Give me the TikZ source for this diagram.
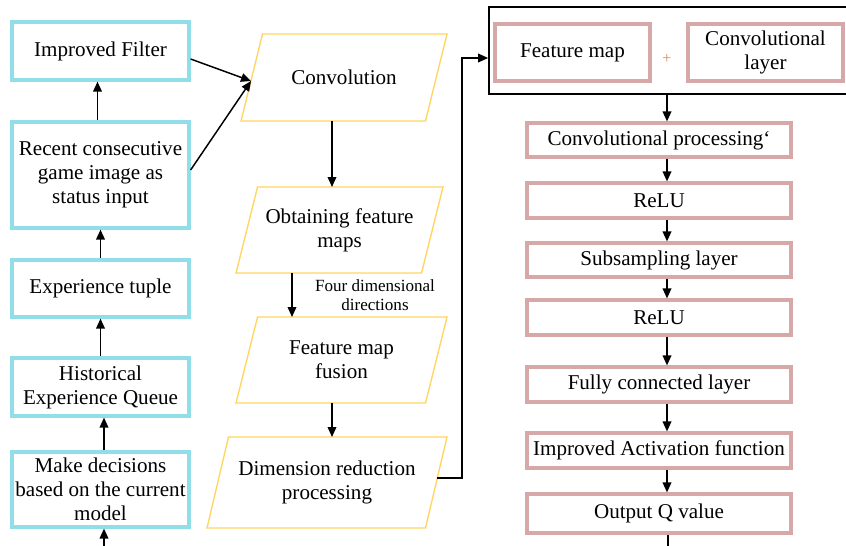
\documentclass[tikz,border=0pt]{standalone}
\usepackage{fontspec}
\setmainfont{Liberation Serif}
\usetikzlibrary{calc,arrows.meta}
\definecolor{cyanb}{RGB}{145,222,232}
\definecolor{pinkb}{RGB}{214,168,168}
\definecolor{yelb}{RGB}{255,212,96}
\definecolor{plusc}{RGB}{220,140,90}
\newcommand\pxl[1]{#1*0.75pt}
\newcommand\drawpara[1]{\draw[yelline] ($(#1.north west)+(21.5,0)$) -- (#1.north east) -- ($(#1.south east)+(-21.5,0)$) -- (#1.south west) -- cycle;}
\tikzset{
  every node/.style={font=\fontsize{15.8}{18}\selectfont},
  cbox/.style={draw=cyanb, line width=2.4pt, minimum width=\pxl{177}, align=center, inner sep=0pt},
  pbox/.style={draw=pinkb, line width=2.4pt, align=center, inner sep=0pt},
  paranode/.style={align=center, inner sep=0pt, outer sep=0pt},
  yelline/.style={draw=yelb, line width=1pt},
  arr/.style={-{Triangle[length=7.5pt,width=6.5pt]}, line width=1.1pt},
  plain/.style={line width=1.1pt}
}
\begin{document}
\begin{tikzpicture}[x=0.75pt,y=-0.75pt]
\useasboundingbox (0,0) rectangle (846,546);
\fill[white] (0,0) rectangle (846,546);
\clip (0,0) rectangle (846,546);

% left column
\node[cbox, minimum height=\pxl{58}] (filt) at (100.5,51) {Improved Filter};
\node[cbox, minimum height=\pxl{106}] (recent) at (100.5,175) {Recent consecutive\\game image as\\status input};
\node[cbox, minimum height=\pxl{57}] (exp) at (100.5,288.5) {Experience tuple};
\node[cbox, minimum height=\pxl{58}] (hist) at (100.5,387) {Historical\\Experience Queue};
\node[cbox, minimum height=\pxl{75}] (make) at (100.5,489.5) {Make decisions\\based on the current\\model};

% middle column
\node[paranode, minimum width=\pxl{206}, minimum height=\pxl{87}] (conv) at (344,77.5) {Convolution};
\node[paranode, minimum width=\pxl{207}, minimum height=\pxl{86}] (obt) at (339.5,230) {Obtaining feature\\maps};
\node[paranode, minimum width=\pxl{211}, minimum height=\pxl{86}] (fus) at (341.5,360) {Feature map\\fusion};
\node[paranode, minimum width=\pxl{240}, minimum height=\pxl{91}] (dim) at (327,482.5) {Dimension reduction\\processing};
\drawpara{conv}
\drawpara{obt}
\drawpara{fus}
\drawpara{dim}
\node[font=\fontsize{12.8}{14.5}\selectfont, align=center] (lbl) at (375,295) {Four dimensional\\directions};

% right column
\node[draw=black, line width=1.3pt, minimum width=\pxl{362}, minimum height=\pxl{87}, inner sep=0pt] (big) at (670,50.5) {};
\node[pbox, minimum width=\pxl{155}, minimum height=\pxl{57}] (fm) at (572.5,52.5) {Feature map};
\node[pbox, minimum width=\pxl{155}, minimum height=\pxl{57}] (cl) at (765.5,52.5) {Convolutional\\layer};
\node[text=plusc, font=\fontsize{12}{14}\selectfont, inner sep=0pt] (plus) at (667,59) {+};

\node[pbox, minimum width=\pxl{264}, minimum height=\pxl{34}] (cp) at (659,140) {Convolutional processing‘};
\node[pbox, minimum width=\pxl{264}, minimum height=\pxl{35}] (relu1) at (659,200.5) {ReLU};
\node[pbox, minimum width=\pxl{264}, minimum height=\pxl{34}] (sub) at (659,260) {Subsampling layer};
\node[pbox, minimum width=\pxl{264}, minimum height=\pxl{35}] (relu2) at (659,317.5) {ReLU};
\node[pbox, minimum width=\pxl{264}, minimum height=\pxl{35}] (fc) at (659,384.5) {Fully connected layer};
\node[pbox, minimum width=\pxl{264}, minimum height=\pxl{35}] (act) at (659,450.5) {Improved Activation function};
\node[pbox, minimum width=\pxl{264}, minimum height=\pxl{39}] (out) at (659,513.5) {Output Q value};

% coordinates
\coordinate (convin) at (251,81);
\coordinate (dimout) at (437,478);
\coordinate (xa) at (332,0);
\coordinate (xb) at (292,0);
\coordinate (xr) at (667,0);
\coordinate (xrb) at (668,0);
\coordinate (lbot) at (104,546);
\coordinate (rbot) at (668,546);

% left connectors
\draw[arr] (lbot) -- (lbot |- make.south);
\draw[arr] (make.north -| lbot) -- (lbot |- hist.south);
\draw[arr] (hist.north) -- (exp.south);
\draw[arr] (exp.north) -- (recent.south);
\draw[arr] ($(recent.north)+(-3,0)$) -- ($(filt.south)+(-3,0)$);
\draw[arr] ($(filt.east)+(0,8)$) -- (convin);
\draw[arr] ($(recent.east)+(0,-5)$) -- (convin);

% middle connectors
\draw[arr] (xa |- conv.south) -- (xa |- obt.north);
\draw[arr] (xb |- obt.south) -- (xb |- fus.north);
\draw[arr] (xa |- fus.south) -- (xa |- dim.north);
\draw[arr] (dimout) -- ++(25,0) |- ($(big.west)+(0,7.5)$);

% right connectors
\draw[arr] (xr |- big.south) -- (xr |- cp.north);
\draw[arr] (xr |- cp.south) -- (xr |- relu1.north);
\draw[arr] (xr |- relu1.south) -- (xr |- sub.north);
\draw[arr] (xr |- sub.south) -- (xr |- relu2.north);
\draw[arr] (xr |- relu2.south) -- (xr |- fc.north);
\draw[arr] (xr |- fc.south) -- (xr |- act.north);
\draw[arr] (xr |- act.south) -- (xr |- out.north);
\draw[plain] (xrb |- out.south) -- (rbot);
\end{tikzpicture}
\end{document}
